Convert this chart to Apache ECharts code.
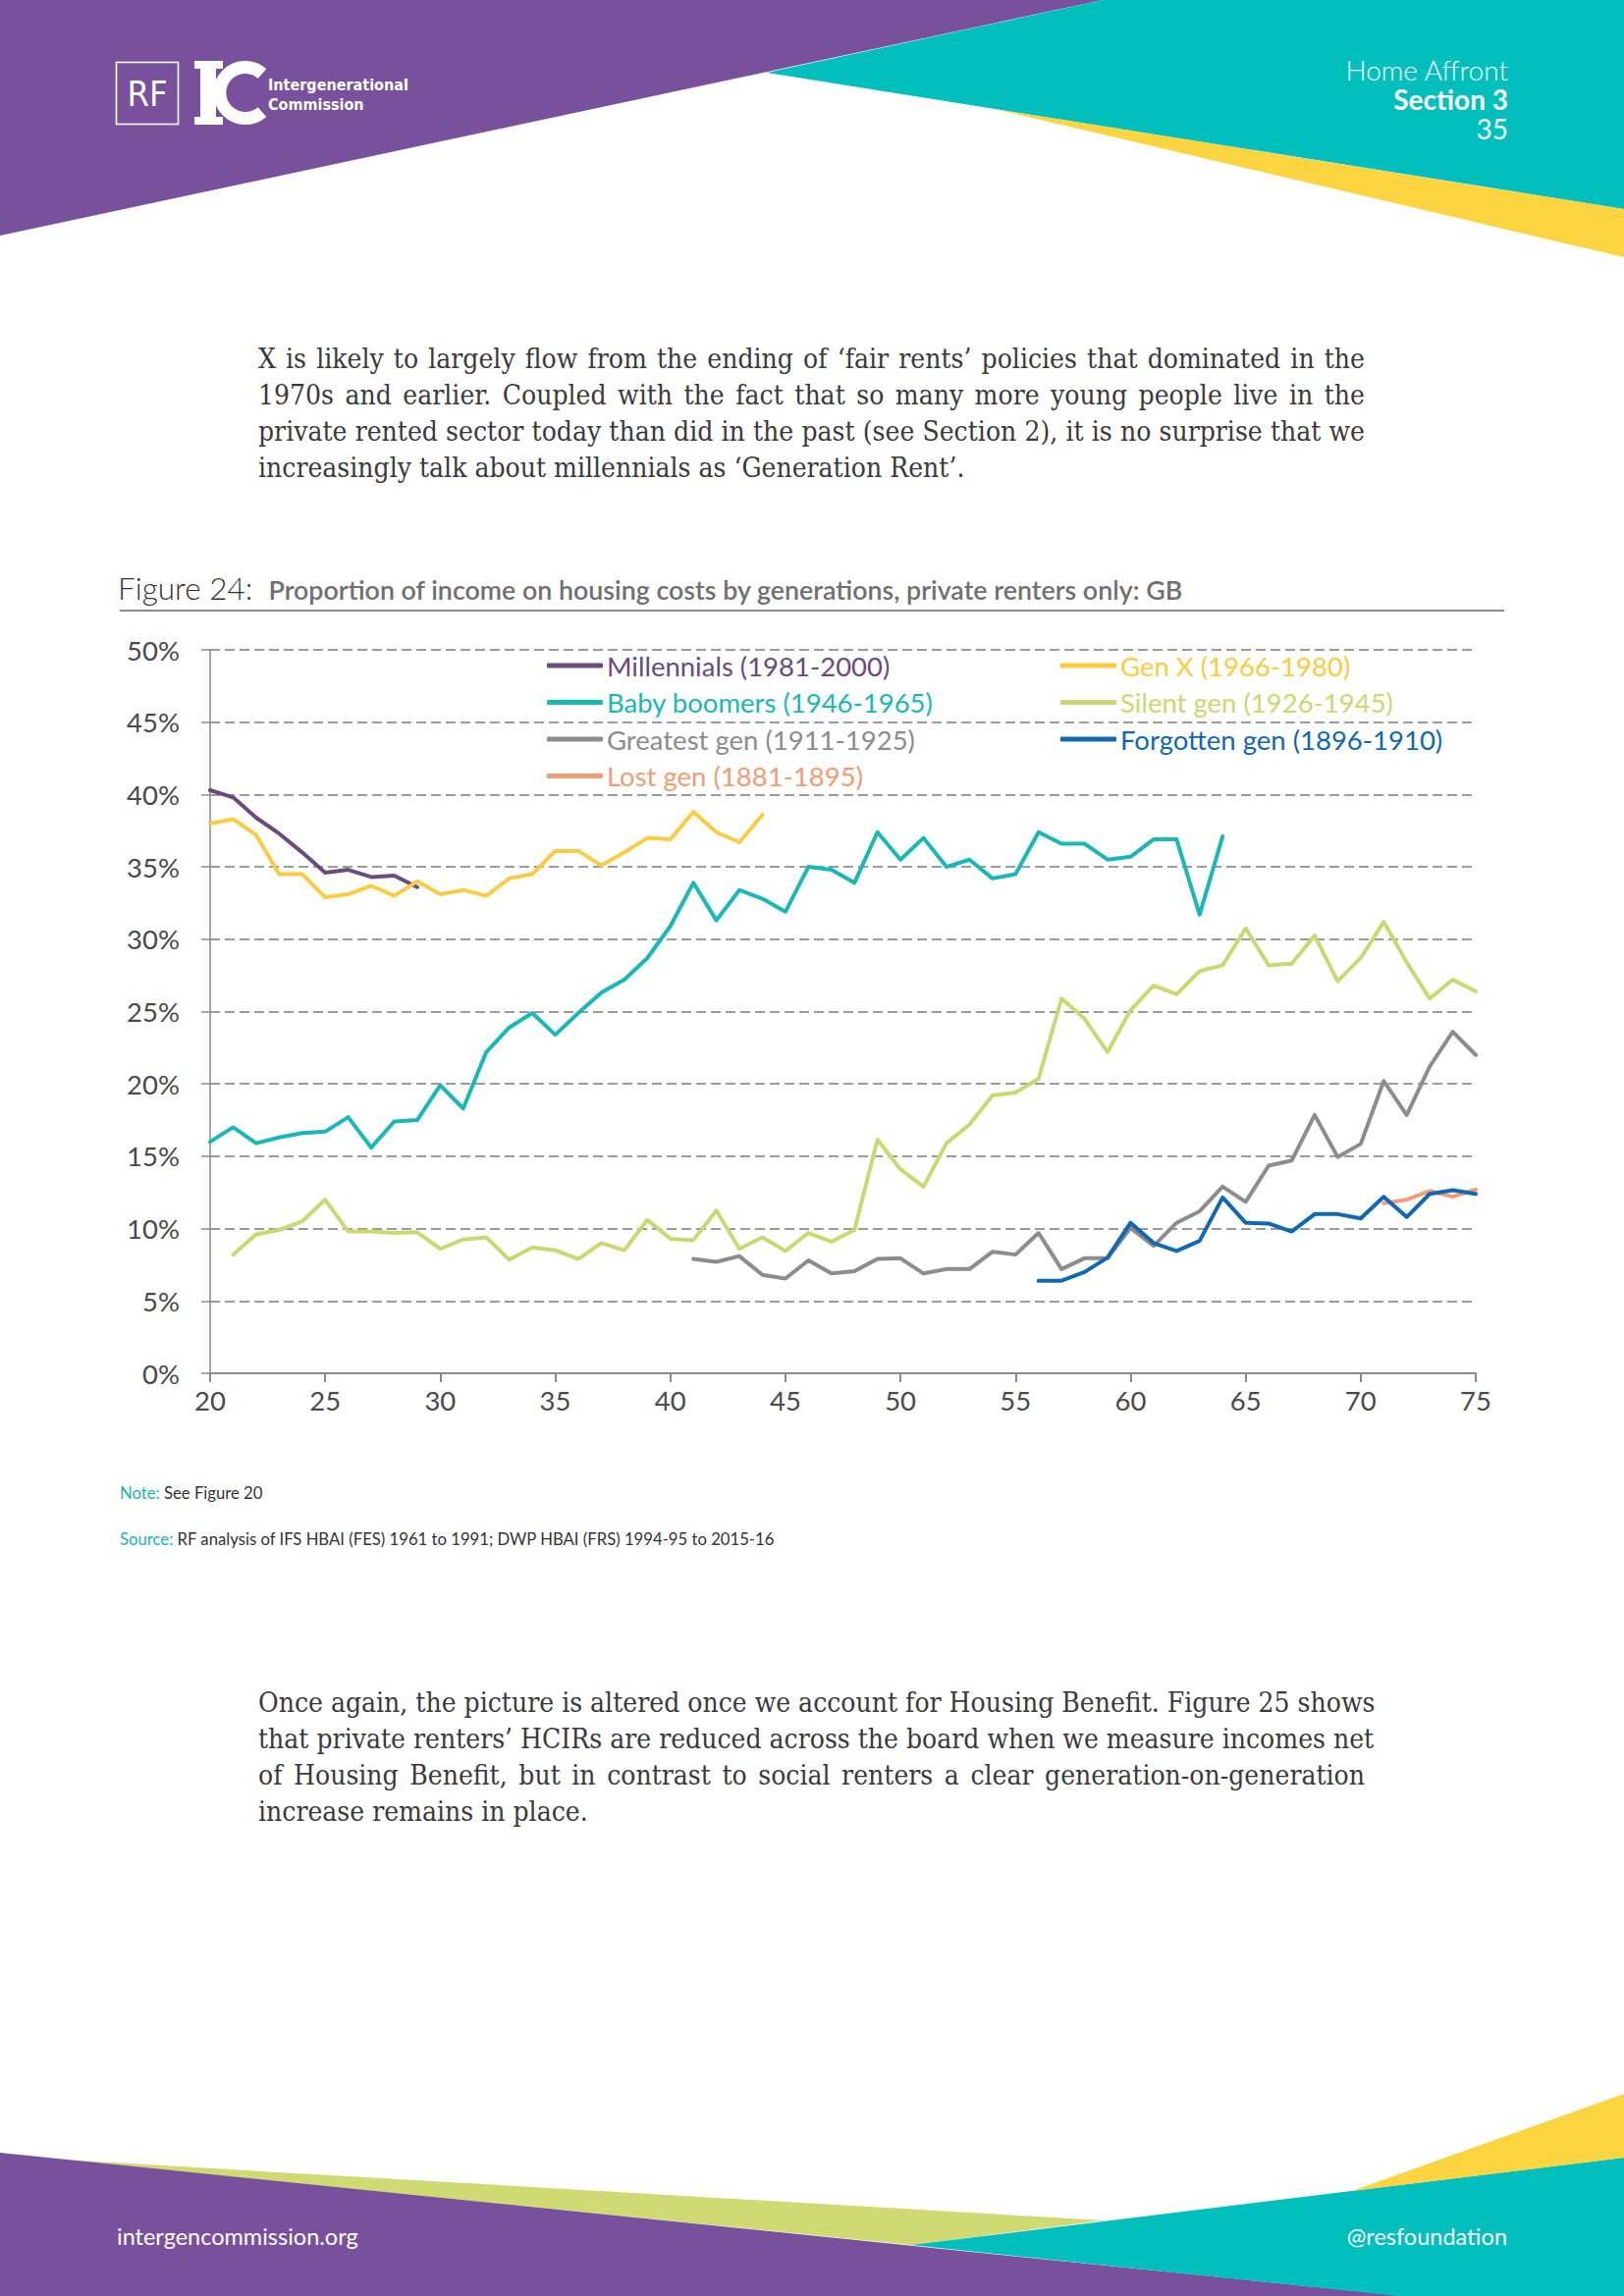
<!DOCTYPE html>
<html><head><meta charset="utf-8">
<script src="https://cdn.jsdelivr.net/npm/echarts/dist/echarts.min.js"></script>
<style>
html,body{margin:0;padding:0;background:#fff;}
#page{position:relative;width:1654px;height:2339px;overflow:hidden;background:#fff;font-family:Lato,'Noto Sans',sans-serif;}
.abs{position:absolute;}
.para{position:absolute;left:263px;width:1127px;font-family:'DejaVu Serif Condensed','DejaVu Serif',serif;font-size:28px;color:#3a3a3a;line-height:37px;}
.para .j{white-space:nowrap;text-align:justify;text-align-last:justify;}
.para .l{white-space:nowrap;}
#chart{position:absolute;left:0;top:630px;width:1654px;height:840px;}
</style></head>
<body><div id="page">
<svg class="abs" style="left:0;top:0" width="1654" height="2339">
  <polygon points="0,0 1123,0 0,240" fill="#78509b"/>
  <polygon points="1123,0 1654,0 1654,213 781,74" fill="#00bfbd"/>
  <polygon points="1013,111 1654,213 1654,262" fill="#fcd440"/>
  <rect x="118.5" y="63.5" width="63" height="63" fill="none" stroke="#fff" stroke-width="1.6"/>
  <text x="150" y="108" text-anchor="middle" fill="#fff" font-family="'Liberation Sans Narrow','DejaVu Sans Condensed',sans-serif" font-size="36">RF</text>
  <rect x="198" y="62" width="29" height="8" fill="#fff"/>
  <rect x="198" y="119" width="29" height="8" fill="#fff"/>
  <rect x="204" y="62" width="16" height="65" fill="#fff"/>
  <path d="M 267 75 A 26 26 0 1 0 267 114" stroke="#fff" stroke-width="13" fill="none"/>
  <text x="273" y="92" fill="#fff" font-weight="bold" font-family="'Liberation Sans Narrow','DejaVu Sans Condensed',sans-serif" font-size="16">Intergenerational</text>
  <text x="273" y="112" fill="#fff" font-weight="bold" font-family="'Liberation Sans Narrow','DejaVu Sans Condensed',sans-serif" font-size="16">Commission</text>
  <polygon points="63,2200 1124,2262 928,2287" fill="#cfdb72"/>
  <polygon points="0,2193 1430,2339 0,2339" fill="#78509b"/>
  <polygon points="928,2287 1654,2198 1654,2339 1424,2339" fill="#00bfbd"/>
  <polygon points="1377,2232 1654,2133 1654,2198" fill="#fcd440"/>
</svg>
<div class="abs" style="right:118px;top:56px;text-align:right;color:#fff;font-size:28px;line-height:30px;">
  <div style="font-weight:300">Home Affront</div>
  <div style="font-weight:700">Section 3</div>
  <div style="font-weight:400">35</div>
</div>
<div class="para" style="top:347px;">
  <div class="j">X is likely to largely flow from the ending of ‘fair rents’ policies that dominated in the</div>
  <div class="j">1970s and earlier. Coupled with the fact that so many more young people live in the</div>
  <div class="j">private rented sector today than did in the past (see Section 2), it is no surprise that we</div>
  <div class="l">increasingly talk about millennials as ‘Generation Rent’.</div>
</div>
<div class="abs" style="left:120px;top:581px;line-height:37px;white-space:nowrap;">
  <span style="font-size:31.5px;font-weight:300;color:#333;">Figure 24:</span>
  <span style="font-size:26.8px;font-weight:600;color:#707070;margin-left:12px;">Proportion of income on housing costs by generations, private renters only: GB</span>
</div>
<div class="abs" style="left:122px;top:621px;width:1410px;height:2px;background:#8a8a8a;"></div>
<div id="chart"></div>
<div class="abs" style="left:122px;top:1510px;font-size:16.7px;line-height:22px;color:#333;white-space:nowrap;"><span style="color:#1ab3b3">Note:</span> See Figure 20</div>
<div class="abs" style="left:122px;top:1557px;font-size:16.7px;line-height:22px;color:#333;white-space:nowrap;"><span style="color:#1ab3b3">Source:</span> RF analysis of IFS HBAI (FES) 1961 to 1991; DWP HBAI (FRS) 1994-95 to 2015-16</div>
<div class="para" style="top:1716px;">
  <div class="j">Once again, the picture is altered once we account for Housing Benefit. Figure 25 shows</div>
  <div class="j">that private renters’ HCIRs are reduced across the board when we measure incomes net</div>
  <div class="j">of Housing Benefit, but in contrast to social renters a clear generation-on-generation</div>
  <div class="l">increase remains in place.</div>
</div>
<div class="abs" style="left:119px;top:2263px;font-size:23.5px;line-height:30px;color:#fff;">intergencommission.org</div>
<div class="abs" style="right:119px;top:2263px;font-size:23.5px;line-height:30px;color:#fff;">@resfoundation</div>
</div>
<script>
// ---- data (share of income spent on housing costs, %, by age) ----
const millennialsStart = 20;
const millennials = [40.3, 39.8, 38.4, 37.3, 36.0, 34.6, 34.8, 34.3, 34.4, 33.6];
const genXStart = 20;
const genX = [38.0, 38.3, 37.2, 34.5, 34.5, 32.9, 33.1, 33.7, 33.0, 34.0, 33.1, 33.4, 33.0, 34.2, 34.5, 36.1, 36.1, 35.1, 36.0, 37.0, 36.9, 38.8, 37.4, 36.7, 38.6];
const boomersStart = 20;
const boomers = [16.0, 17.0, 15.9, 16.3, 16.6, 16.7, 17.7, 15.6, 17.4, 17.5, 19.9, 18.3, 22.2, 23.9, 24.9, 23.4, 24.9, 26.3, 27.2, 28.7, 30.9, 33.9, 31.3, 33.4, 32.8, 31.9, 35.0, 34.8, 33.9, 37.4, 35.5, 37.0, 35.0, 35.5, 34.2, 34.5, 37.4, 36.6, 36.6, 35.5, 35.7, 36.9, 36.9, 31.7, 37.1];
const silentStart = 21;
const silent = [8.2, 9.6, 9.9, 10.5, 12.0, 9.8, 9.8, 9.7, 9.75, 8.6, 9.25, 9.4, 7.85, 8.7, 8.5, 7.9, 9.0, 8.5, 10.6, 9.3, 9.2, 11.25, 8.6, 9.4, 8.45, 9.7, 9.1, 9.9, 16.15, 14.1, 12.9, 15.9, 17.2, 19.2, 19.4, 20.35, 25.9, 24.5, 22.2, 25.1, 26.8, 26.2, 27.8, 28.2, 30.75, 28.2, 28.3, 30.25, 27.1, 28.7, 31.2, 28.4, 25.9, 27.2, 26.4];
const greatestStart = 41;
const greatest = [7.9, 7.7, 8.1, 6.8, 6.55, 7.8, 6.9, 7.05, 7.9, 7.95, 6.9, 7.2, 7.2, 8.4, 8.2, 9.7, 7.2, 7.95, 7.95, 10.05, 8.8, 10.4, 11.2, 12.9, 11.85, 14.35, 14.7, 17.85, 14.95, 15.85, 20.2, 17.85, 21.2, 23.6, 22.0];
const forgottenStart = 56;
const forgotten = [6.4, 6.4, 7.0, 8.0, 10.4, 9.0, 8.45, 9.15, 12.15, 10.4, 10.35, 9.8, 11.0, 11.0, 10.7, 12.2, 10.8, 12.4, 12.65, 12.4];
const lostStart = 71;
const lost = [11.75, 12.0, 12.6, 12.2, 12.7];

const seriesNames = ['Millennials (1981-2000)', 'Gen X (1966-1980)', 'Baby boomers (1946-1965)', 'Silent gen (1926-1945)', 'Greatest gen (1911-1925)', 'Forgotten gen (1896-1910)', 'Lost gen (1881-1895)'];
const legendLeftColumn = ['Millennials (1981-2000)', 'Baby boomers (1946-1965)', 'Greatest gen (1911-1925)', 'Lost gen (1881-1895)'];
const legendRightColumn = ['Gen X (1966-1980)', 'Silent gen (1926-1945)', 'Forgotten gen (1896-1910)'];
const xTickLabels = [20, 25, 30, 35, 40, 45, 50, 55, 60, 65, 70, 75];
const yTickLabels = [0, 5, 10, 15, 20, 25, 30, 35, 40, 45, 50];

const colors = {
  'Millennials (1981-2000)': '#6b4a7e',
  'Gen X (1966-1980)': '#fbcb40',
  'Baby boomers (1946-1965)': '#17b8b8',
  'Silent gen (1926-1945)': '#c9d96f',
  'Greatest gen (1911-1925)': '#8c8c8c',
  'Forgotten gen (1896-1910)': '#1068b2',
  'Lost gen (1881-1895)': '#f39b72'
};
const raw = {
  'Millennials (1981-2000)': [millennialsStart, millennials],
  'Gen X (1966-1980)': [genXStart, genX],
  'Baby boomers (1946-1965)': [boomersStart, boomers],
  'Silent gen (1926-1945)': [silentStart, silent],
  'Greatest gen (1911-1925)': [greatestStart, greatest],
  'Lost gen (1881-1895)': [lostStart, lost],
  'Forgotten gen (1896-1910)': [forgottenStart, forgotten]
};
const drawOrder = ['Millennials (1981-2000)', 'Gen X (1966-1980)', 'Baby boomers (1946-1965)', 'Silent gen (1926-1945)', 'Greatest gen (1911-1925)', 'Lost gen (1881-1895)', 'Forgotten gen (1896-1910)'];

const series = drawOrder.map(name => ({
  name: name,
  type: 'line',
  data: raw[name][1].map((v, i) => [raw[name][0] + i, v]),
  showSymbol: false,
  symbol: 'none',
  color: colors[name],
  lineStyle: { width: 4, color: colors[name], cap: 'round', join: 'round' },
  emphasis: { disabled: true },
  animation: false
}));

const FONT = 'Lato, "Noto Sans", sans-serif';
function legendCol(names, left) {
  return {
    orient: 'vertical',
    left: left,
    top: 29,
    itemWidth: 57,
    itemHeight: 5,
    itemGap: 9.5,
    icon: 'roundRect',
    selectedMode: false,
    textStyle: { fontFamily: FONT, fontSize: 27.5, lineHeight: 27, padding: [0, 0, 0, -1] },
    data: names.map(n => ({ name: n, textStyle: { color: colors[n] }, itemStyle: { color: colors[n] } }))
  };
}

const chart = echarts.init(document.getElementById('chart'), null, { renderer: 'svg' });
chart.setOption({
  animation: false,
  textStyle: { fontFamily: FONT },
  grid: { left: 214, right: 151, top: 32, bottom: 71, containLabel: false },
  legend: [legendCol(legendLeftColumn, 552), legendCol(legendRightColumn, 1075)],
  xAxis: {
    type: 'value', min: 20, max: 75, interval: 5,
    axisLine: { lineStyle: { color: '#8a8a8a', width: 2 } },
    axisTick: { show: true, length: 9, lineStyle: { color: '#8a8a8a', width: 2 } },
    axisLabel: { fontSize: 27.5, color: '#4a4a4a', margin: 13, fontFamily: FONT,
      formatter: v => xTickLabels.includes(v) ? String(v) : '' },
    splitLine: { show: false }
  },
  yAxis: {
    type: 'value', min: 0, max: 50, interval: 5,
    axisLine: { show: true, lineStyle: { color: '#8a8a8a', width: 1.5 } },
    axisTick: { show: true, length: 9, lineStyle: { color: '#8a8a8a', width: 1.5 } },
    axisLabel: { fontSize: 27.5, color: '#4a4a4a', margin: 31, fontFamily: FONT,
      formatter: v => yTickLabels.includes(v) ? v + '%' : '' },
    splitLine: { show: true, lineStyle: { color: '#9b9b9b', width: 2, type: [10, 5] } }
  },
  series: series
});
</script>
</body></html>
